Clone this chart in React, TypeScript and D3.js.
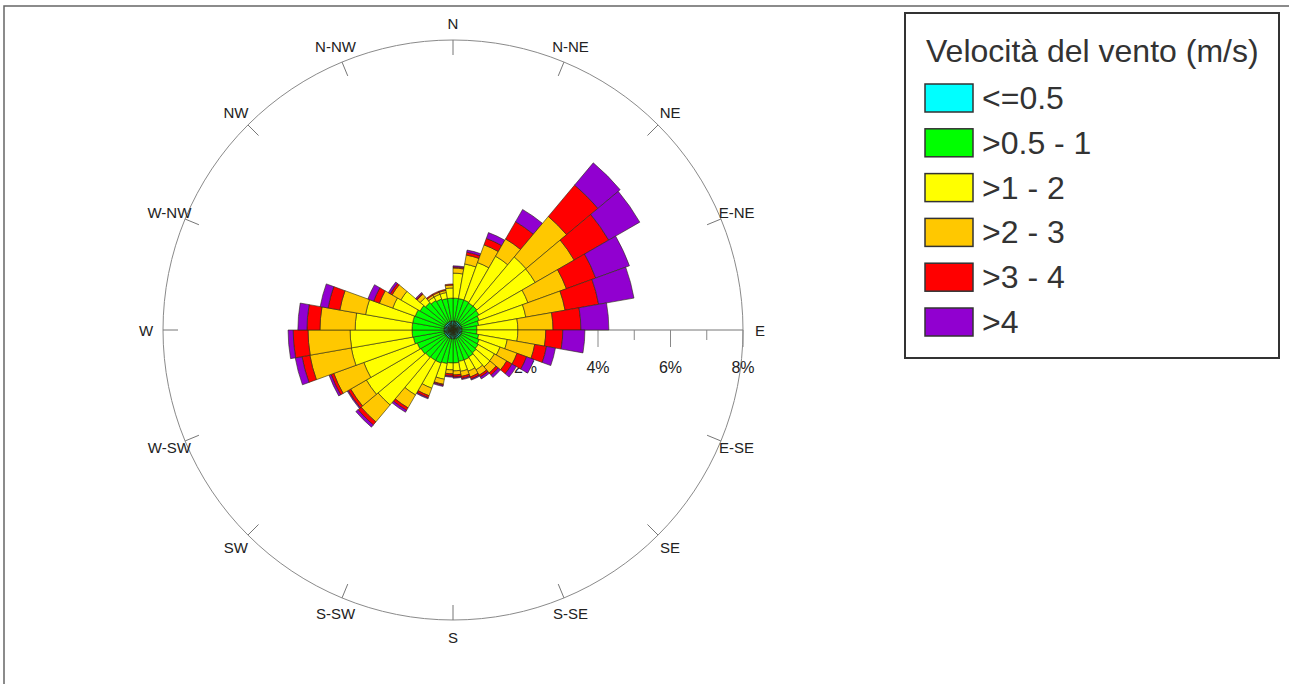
import React, { useEffect, useRef } from 'react';
import * as d3 from 'd3';

// 36 sectors of 10 degrees, clockwise from north (sector i spans i*10 .. i*10+10)
const sectorStarts = d3.range(0, 360, 10);

const speedClasses = ['<=0.5', '>0.5 - 1', '>1 - 2', '>2 - 3', '>3 - 4', '>4'];
const classColors = ['#00ffff', '#00ff00', '#ffff00', '#ffc800', '#ff0000', '#9100d0'];

// frequency (%) of each speed class per sector
const calm = [
  0.25, 0.25, 0.25, 0.25, 0.25, 0.25, 0.25, 0.25, 0.25, 0.25, 0.25, 0.25,
  0.25, 0.25, 0.25, 0.25, 0.25, 0.25, 0.25, 0.25, 0.25, 0.25, 0.25, 0.25,
  0.25, 0.25, 0.25, 0.25, 0.25, 0.25, 0.25, 0.25, 0.25, 0.25, 0.25, 0.25,
];
const v05to1 = [
  0.63, 0.63, 0.63, 0.61, 0.61, 0.58, 0.52, 0.47, 0.41, 0.41, 0.47, 0.52,
  0.55, 0.58, 0.61, 0.63, 0.63, 0.66, 0.66, 0.69, 0.72, 0.72, 0.74, 0.77,
  0.8, 0.86, 0.88, 0.88, 0.88, 0.86, 0.8, 0.74, 0.69, 0.66, 0.63, 0.63,
];
const v1to2 = [
  0.69, 0.97, 1.1, 1.49, 1.77, 1.79, 1.43, 1.32, 1.13, 1.13, 0.8, 0.61,
  0.52, 0.5, 0.41, 0.33, 0.28, 0.22, 0.19, 0.44, 0.74, 1.1, 1.71, 1.74,
  1.57, 1.74, 1.71, 1.57, 1.32, 0.66, 0.61, 0.19, 0.11, 0.14, 0.17, 0.28,
];
const v2to3 = [
  0.14, 0.25, 0.52, 0.55, 1.46, 1.24, 1.13, 1.1, 0.97, 0.77, 0.77, 0.5,
  0.39, 0.22, 0.17, 0.17, 0.14, 0.11, 0.11, 0.14, 0.22, 0.41, 0.61, 0.5,
  0.88, 1.16, 1.16, 0.97, 0.72, 0.39, 0.28, 0.11, 0.06, 0.06, 0.06, 0.08,
];
const v3to4 = [
  0.03, 0.08, 0.19, 0.55, 1.13, 1.1, 0.86, 0.94, 0.77, 0.47, 0.33, 0.28,
  0.17, 0.08, 0.06, 0.06, 0.06, 0.06, 0.06, 0.03, 0.06, 0.08, 0.11, 0.08,
  0.08, 0.22, 0.41, 0.36, 0.33, 0.17, 0.06, 0.03, 0.03, 0.03, 0.03, 0.03,
];
const vOver4 = [
  0.03, 0.06, 0.17, 0.39, 0.8, 0.99, 0.99, 0.99, 0.77, 0.61, 0.25, 0.22,
  0.14, 0.08, 0.06, 0.03, 0.03, 0.03, 0.03, 0.03, 0.03, 0.06, 0.08, 0.03,
  0.06, 0.19, 0.14, 0.25, 0.22, 0.17, 0.06, 0.03, 0, 0, 0, 0,
];

const directions = ['N', 'N-NE', 'NE', 'E-NE', 'E', 'E-SE', 'SE', 'S-SE', 'S', 'S-SW', 'SW', 'W-SW', 'W', 'W-NW', 'NW', 'N-NW'];
const pctTicks = [1, 2, 3, 4, 5, 6, 7, 8];

export default function App() {
  const svgRef = useRef<SVGSVGElement>(null);

  useEffect(() => {
    if (!svgRef.current) return;
    const svg = d3.select(svgRef.current);
    svg.selectAll('*').remove();

    const width = 1289;
    const height = 684;
    const cx = 453;
    const cy = 330;
    const font = 'Liberation Sans, Arial, sans-serif';

    svg.append('rect').attr('width', width).attr('height', height).attr('fill', '#fff');

    // frame
    svg.append('rect')
      .attr('x', 4).attr('y', 6)
      .attr('width', width + 20).attr('height', height + 20)
      .attr('fill', 'none').attr('stroke', '#666').attr('stroke-width', 1.5);

    const r = d3.scaleLinear().domain([0, 8]).range([0, 290]);
    const rMax = r(8);
    const g = svg.append('g').attr('transform', `translate(${cx},${cy})`);

    // outer circle
    g.append('circle').attr('r', rMax).attr('fill', 'none').attr('stroke', '#8a8a8a').attr('stroke-width', 1);

    // compass ticks + labels
    directions.forEach((d, i) => {
      const a = (i * 22.5 * Math.PI) / 180;
      const sx = Math.sin(a);
      const sy = -Math.cos(a);
      if (d !== 'E') {
        g.append('line')
          .attr('x1', sx * (rMax - 15)).attr('y1', sy * (rMax - 15))
          .attr('x2', sx * rMax).attr('y2', sy * rMax)
          .attr('stroke', '#777').attr('stroke-width', 1);
      }
      g.append('text')
        .attr('x', sx * 307).attr('y', sy * 307)
        .attr('text-anchor', 'middle').attr('dominant-baseline', 'central')
        .attr('font-family', font).attr('font-size', 15).attr('fill', '#222')
        .text(d);
    });

    // percent axis toward E
    g.append('line').attr('x1', 0).attr('y1', 0).attr('x2', rMax).attr('y2', 0)
      .attr('stroke', '#777').attr('stroke-width', 1);
    pctTicks.forEach((t) => {
      const major = t % 2 === 0;
      g.append('line')
        .attr('x1', r(t)).attr('x2', r(t))
        .attr('y1', 0).attr('y2', major ? 17 : 10)
        .attr('stroke', '#888').attr('stroke-width', 1);
      if (major) {
        g.append('text')
          .attr('x', r(t)).attr('y', 43)
          .attr('text-anchor', 'middle')
          .attr('font-family', font).attr('font-size', 16).attr('fill', '#222')
          .text(`${t}%`);
      }
    });

    // stacked rose
    const series = [calm, v05to1, v1to2, v2to3, v3to4, vOver4];
    const arc = d3.arc<any>();
    const bars = g.append('g');
    sectorStarts.forEach((start, i) => {
      let acc = 0;
      series.forEach((vals, k) => {
        const v = vals[i];
        if (v <= 0) return;
        const inner = acc;
        acc += v;
        bars.append('path')
          .attr('d', arc({
            innerRadius: r(inner),
            outerRadius: r(acc),
            startAngle: (start * Math.PI) / 180,
            endAngle: ((start + 10) * Math.PI) / 180,
          }))
          .attr('fill', classColors[k])
          .attr('stroke', '#2a2a10')
          .attr('stroke-width', k === 0 ? 1 : 0.6);
      });
    });

    // legend
    const lg = svg.append('g').attr('transform', 'translate(905,13)');
    lg.append('rect').attr('width', 374).attr('height', 345)
      .attr('fill', '#fff').attr('stroke', '#333').attr('stroke-width', 2);
    lg.append('text')
      .attr('x', 21).attr('y', 49)
      .attr('font-family', font).attr('font-size', 32).attr('fill', '#333')
      .text('Velocità del vento (m/s)');
    speedClasses.forEach((c, k) => {
      const y = 71 + k * 44.8;
      lg.append('rect').attr('x', 20).attr('y', y).attr('width', 48).attr('height', 28)
        .attr('fill', classColors[k]).attr('stroke', '#333').attr('stroke-width', 1.5);
      lg.append('text')
        .attr('x', 77).attr('y', y + 25)
        .attr('font-family', font).attr('font-size', 32).attr('fill', '#333')
        .text(c);
    });
  }, []);

  return (
    <svg
      ref={svgRef}
      width={1289}
      height={684}
      style={{ position: 'absolute', left: 0, top: 0, display: 'block' }}
    />
  );
}
